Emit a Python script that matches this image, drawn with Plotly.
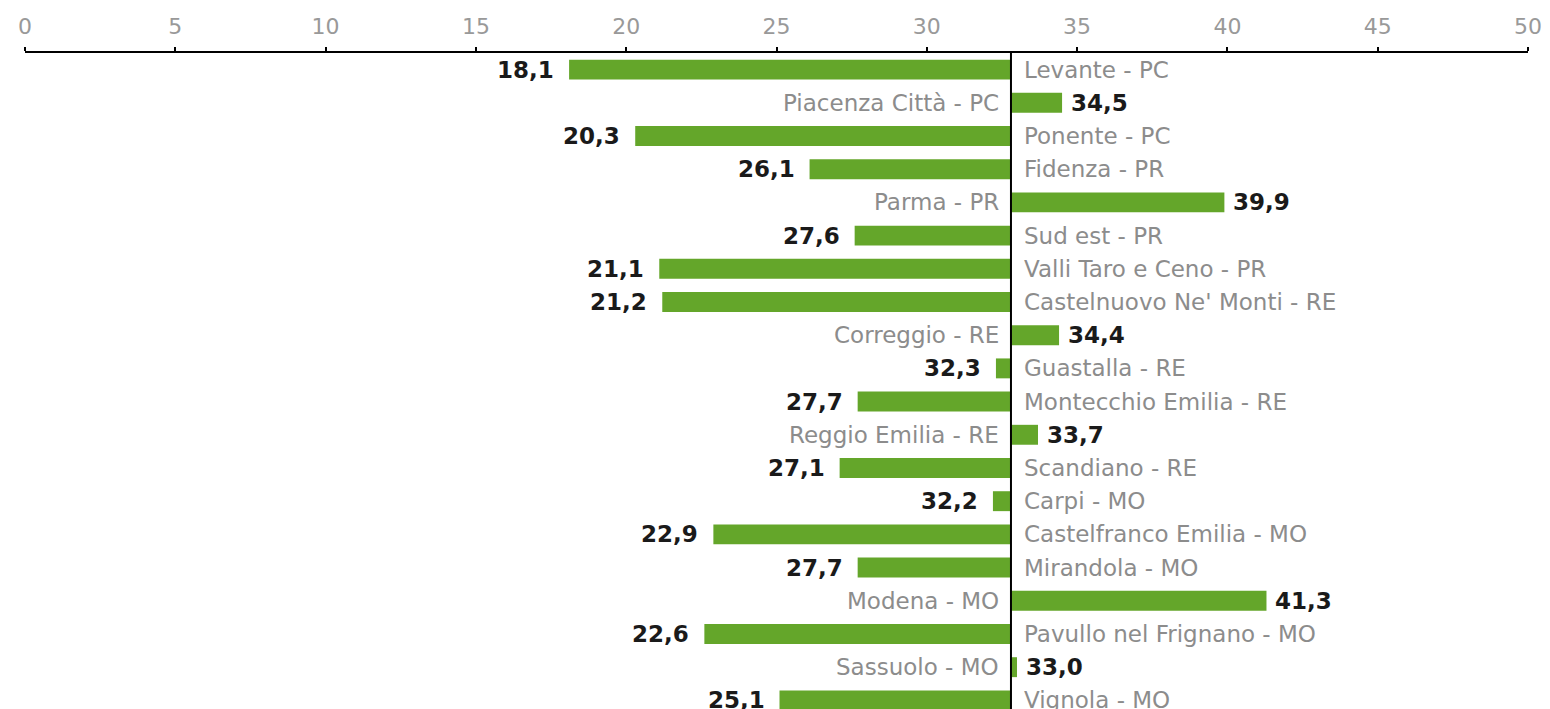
import plotly.graph_objects as go

categories = ["Levante - PC", "Piacenza Città - PC", "Ponente - PC", "Fidenza - PR",
              "Parma - PR", "Sud est - PR", "Valli Taro e Ceno - PR",
              "Castelnuovo Ne' Monti - RE", "Correggio - RE", "Guastalla - RE",
              "Montecchio Emilia - RE", "Reggio Emilia - RE", "Scandiano - RE",
              "Carpi - MO", "Castelfranco Emilia - MO", "Mirandola - MO",
              "Modena - MO", "Pavullo nel Frignano - MO", "Sassuolo - MO", "Vignola - MO"]
values = [18.1, 34.5, 20.3, 26.1, 39.9, 27.6, 21.1, 21.2, 34.4, 32.3,
          27.7, 33.7, 27.1, 32.2, 22.9, 27.7, 41.3, 22.6, 33.0, 25.1]
base_value = 32.8
tick_vals = [0, 5, 10, 15, 20, 25, 30, 35, 40, 45, 50]

pos = list(range(len(categories)))
green = "#64A62A"

fig = go.Figure()
fig.add_trace(go.Bar(
    y=pos,
    x=[v - base_value for v in values],
    base=base_value,
    orientation="h",
    width=0.6,
    marker=dict(color=green, line=dict(width=0)),
    hoverinfo="skip",
))

annotations = []
for i, (c, v) in enumerate(zip(categories, values)):
    left = v < base_value
    annotations.append(dict(
        x=v, y=i, xref="x", yref="y",
        text=f"{v:.1f}".replace(".", ","),
        showarrow=False,
        xanchor="right" if left else "left",
        xshift=-13 if left else 7,
        font=dict(family="DejaVu Sans", size=23, color="#1a1a1a", weight="bold"),
    ))
    annotations.append(dict(
        x=base_value, y=i, xref="x", yref="y",
        text=c,
        showarrow=False,
        xanchor="left" if left else "right",
        xshift=11 if left else -10,
        font=dict(family="DejaVu Sans", size=23, color="#8c8c8c"),
    ))

fig.update_layout(
    width=1542, height=701,
    margin=dict(l=17, r=22, t=45, b=0, autoexpand=False),
    paper_bgcolor="white", plot_bgcolor="white",
    showlegend=False,
    annotations=annotations,
    shapes=[dict(type="line", xref="x", yref="paper", x0=base_value, x1=base_value,
                 y0=0, y1=1, line=dict(color="black", width=2))],
    xaxis=dict(
        side="top", range=[0, 50], tickvals=tick_vals,
        showgrid=False, zeroline=False,
        showline=True, linecolor="black", linewidth=2,
        ticks="outside", ticklen=4, tickcolor="black", tickwidth=2,
        tickfont=dict(family="DejaVu Sans", size=22, color="#999999"),
        ticklabelstandoff=4,
    ),
    yaxis=dict(range=[19.26, -0.5], visible=False, showgrid=False),
)

fig.write_html("out.html")
